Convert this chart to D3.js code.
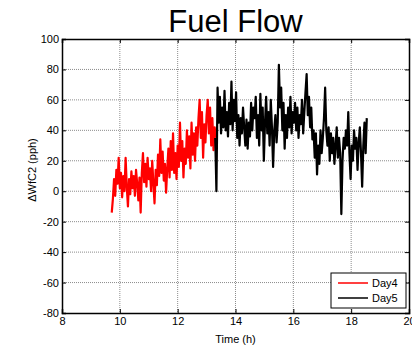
<!DOCTYPE html>
<html><head><meta charset="utf-8">
<script src="https://cdn.jsdelivr.net/npm/d3@7"></script>
<style>body{margin:0;background:#fff}svg{display:block}text{font-family:"Liberation Sans",Arial,sans-serif}</style>
</head><body><svg id="c" width="412" height="347"></svg>
<script>
const xTicks = [8, 10, 12, 14, 16, 18, 20];
const yTicks = [-80, -60, -40, -20, 0, 20, 40, 60, 80, 100];
const seriesNames = ["Day4", "Day5"];
const day4Start = 9.72, day5Start = 13.30, sampleStep = 0.04;
const day4Values = [-14,-5,8,-3,14,5,22,2,12,-4,10,0,22,3,-10,8,-2,13,2,10,-3,14,5,-6,9,-14,12,25,6,18,3,22,8,15,0,20,5,-8,14,4,24,10,34,12,26,7,18,-1,15,28,9,33,14,38,12,25,8,30,16,45,20,33,9,28,18,40,22,36,15,45,24,38,20,42,30,48,60,35,52,22,44,32,50,60,38,55,30,48,27,42,35];
const day5Values = [35,0,68,45,62,38,55,42,66,40,52,36,58,44,72,40,60,46,65,35,50,30,48,38,55,42,30,47,28,45,36,58,40,55,48,62,35,50,30,64,40,55,20,45,62,38,52,30,60,42,16,40,50,32,45,83,55,68,40,58,28,50,35,55,42,62,38,52,45,58,40,55,35,50,44,60,38,52,65,77,50,62,42,55,34,40,22,38,11,30,18,40,25,35,48,68,40,30,42,20,38,25,35,18,30,42,22,35,25,-15,20,35,28,40,30,52,25,8,30,20,40,28,35,14,32,42,25,3,30,45,25,48];
const day4 = day4Values.map((v,i)=>({t: day4Start + i*sampleStep, v}));
const day5 = day5Values.map((v,i)=>({t: day5Start + i*sampleStep, v}));

const svg = d3.select("#c");
const L=62, R=409, T=39, B=313;
const x = d3.scaleLinear().domain([8,20]).range([L,R]);
const y = d3.scaleLinear().domain([-80,100]).range([B,T]);

// grid
const g = svg.append("g");
g.selectAll(".gx").data(xTicks.slice(1,-1)).enter().append("line")
  .attr("x1",d=>x(d)).attr("x2",d=>x(d)).attr("y1",T).attr("y2",B)
  .attr("stroke","#8c8c8c").attr("stroke-width",1).attr("stroke-dasharray","1,1");
g.selectAll(".gy").data(yTicks.slice(1,-1)).enter().append("line")
  .attr("y1",d=>y(d)).attr("y2",d=>y(d)).attr("x1",L).attr("x2",R)
  .attr("stroke","#8c8c8c").attr("stroke-width",1).attr("stroke-dasharray","1,1");

// data lines
const line = d3.line().x(d=>x(d.t)).y(d=>y(d.v));
svg.append("path").datum(day4).attr("d",line).attr("fill","none").attr("stroke","#ff0000").attr("stroke-width",2.2).attr("stroke-linejoin","round");
svg.append("path").datum(day5).attr("d",line).attr("fill","none").attr("stroke","#000").attr("stroke-width",2.2).attr("stroke-linejoin","round");

// axes
const fmt = d => String(d);
const ax = svg.append("g").attr("transform",`translate(0,${B})`)
  .call(d3.axisBottom(x).tickValues(xTicks).tickSize(-4).tickPadding(4).tickFormat(fmt));
const ay = svg.append("g").attr("transform",`translate(${L},0)`)
  .call(d3.axisLeft(y).tickValues(yTicks).tickSize(-4).tickPadding(3).tickFormat(fmt));
svg.append("g").attr("transform",`translate(0,${T})`)
  .call(d3.axisTop(x).tickValues(xTicks).tickSize(-4).tickFormat(""));
svg.append("g").attr("transform",`translate(${R},0)`)
  .call(d3.axisRight(y).tickValues(yTicks).tickSize(-4).tickFormat(""));
svg.selectAll(".domain").attr("stroke","#000").attr("stroke-width",1.5);
svg.selectAll(".tick line").attr("stroke","#000");
svg.selectAll(".tick text").attr("font-size",11).attr("fill","#000").style("font-family","Liberation Sans, Arial, sans-serif");
ax.selectAll(".tick text").attr("dy","0.71em");

// title & labels
svg.append("text").attr("x",(L+R)/2).attr("y",32).attr("text-anchor","middle")
  .attr("font-size",31).attr("fill","#000").text("Fuel Flow");
svg.append("text").attr("x",(L+R)/2).attr("y",343).attr("text-anchor","middle")
  .attr("font-size",11).attr("fill","#000").text("Time (h)");
svg.append("text").attr("transform",`translate(36,${(T+B)/2 - 6}) rotate(-90)`).attr("text-anchor","middle")
  .attr("font-size",11).attr("fill","#000").text("ΔWfC2 (pph)");

// legend
const lg = svg.append("g").attr("transform","translate(331,273)");
lg.append("rect").attr("width",75).attr("height",35).attr("fill","#fff").attr("stroke","#000").attr("stroke-width",1);
const colors = ["#ff0000","#000"];
seriesNames.forEach((n,i)=>{
  lg.append("line").attr("x1",7).attr("x2",37).attr("y1",10+i*15).attr("y2",10+i*15).attr("stroke",colors[i]).attr("stroke-width",1.5);
  lg.append("text").attr("x",41).attr("y",14+i*15).attr("font-size",11).attr("fill","#000").text(n);
});
</script></body></html>
